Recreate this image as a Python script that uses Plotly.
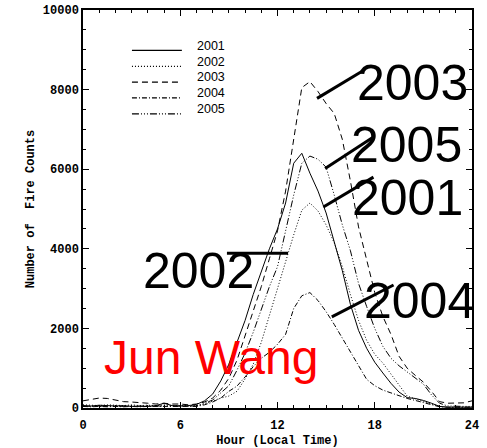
import plotly.graph_objects as go

hours = [i * 0.5 for i in range(49)]

fires_2001 = [60, 50, 70, 60, 50, 60, 40, 50, 40, 60, 120, 60, 50, 60, 90, 180,
              350, 680, 1100, 1650, 2200, 2850, 3450, 4000, 4500, 5150, 6150, 6400,
              5900, 5450, 4900, 4150, 3450, 2600, 1950, 1500, 1150, 880, 620, 400,
              260, 240, 190, 120, 40, 20, 20, 20, 20]
fires_2002 = [80, 70, 60, 80, 70, 60, 80, 60, 70, 60, 80, 60, 60, 60, 60, 100,
              170, 250, 300, 420, 730, 1100, 1650, 2330, 3030, 3650, 4350, 4970,
              5150, 4950, 4600, 4150, 3550, 2850, 2200, 1700, 1350, 1130, 850, 560,
              300, 230, 160, 100, 40, 20, 20, 20, 20]
fires_2003 = [180, 220, 250, 240, 200, 160, 150, 140, 120, 100, 120, 100, 100, 80, 100, 150,
              250, 450, 750, 1200, 1800, 2400, 3050, 3750, 4450, 5450, 6800, 8050,
              8200, 7950, 7650, 7400, 6750, 5700, 4550, 3700, 2900, 2300, 1850, 1300,
              1000, 820, 650, 420, 160, 120, 130, 130, 180]
fires_2004 = [40, 30, 40, 30, 40, 30, 40, 30, 40, 40, 50, 40, 40, 40, 40, 80,
              150, 250, 420, 550, 780, 1040, 1250, 1400, 1600, 1850, 2500, 2820,
              2900, 2700, 2420, 2100, 1750, 1400, 1050, 720, 560, 450, 380, 300,
              240, 190, 140, 80, 30, 20, 20, 20, 20]
fires_2005 = [50, 40, 50, 40, 50, 40, 50, 40, 50, 50, 60, 50, 50, 50, 50, 120,
              200, 380, 560, 950, 1380, 1900, 2500, 3050, 3550, 4450, 5350, 6150,
              6330, 6250, 6050, 5350, 4600, 3950, 3130, 2550, 2000, 1550, 1250, 1060,
              900, 750, 600, 330, 120, 50, 40, 40, 40]

years = ["2001", "2002", "2003", "2004", "2005"]
series = [fires_2001, fires_2002, fires_2003, fires_2004, fires_2005]
dashes = ["solid", "1px,2px", "6px,4px", "5px,2px,1px,2px",
          "7px,2px,1px,2px,1px,2px,1px,2px"]

# callout labels: text, label centre (hour, count), leader line ends
callouts = [
    ("2003", 20.34, 8170, (14.44, 7780), (17.22, 8460)),
    ("2005", 19.94, 6620, (14.94, 6020), (17.92, 6810)),
    ("2001", 20.0, 5270, (14.83, 5050), (17.92, 5800)),
    ("2002", 7.15, 3440, (8.88, 3890), (12.65, 3890)),
    ("2004", 20.75, 2690, (15.35, 2290), (19.16, 3090)),
]

fig = go.Figure()
for yr, vals, d in zip(years, series, dashes):
    fig.add_trace(go.Scatter(x=hours, y=vals, mode="lines", name=yr,
                             line=dict(color="black", width=1, dash=d)))

shapes = []
annotations = []
# IDL-style legend drawn inside the plot
for i, (yr, d) in enumerate(zip(years, dashes)):
    ly = 8984 - i * 398
    shapes.append(dict(type="line", xref="x", yref="y", x0=3.02, x1=6.1, y0=ly, y1=ly,
                       line=dict(color="black", width=1.3, dash=d)))
    annotations.append(dict(x=6.92, y=ly + 120, xref="x", yref="y", text=yr,
                            showarrow=False, xanchor="left", yanchor="middle",
                            font=dict(family="Liberation Sans", size=12.5, color="black")))

for txt, tx, ty, p0, p1 in callouts:
    shapes.append(dict(type="line", xref="x", yref="y", x0=p0[0], y0=p0[1], x1=p1[0], y1=p1[1],
                       line=dict(color="black", width=3)))
    annotations.append(dict(x=tx, y=ty, xref="x", yref="y", text=txt, showarrow=False,
                            xanchor="center", yanchor="middle",
                            font=dict(family="Liberation Sans", size=50, color="black")))

# signature
annotations.append(dict(x=(102 - 83.3) / 388.4, y=(408 - 386) / 398.5,
                        xref="paper", yref="paper", text="Jun Wang",
                        showarrow=False, xanchor="left", yanchor="bottom",
                        font=dict(family="Liberation Sans", size=48, color="red")))

tickfont = dict(family="Liberation Mono", size=12, color="black", weight="bold")
fig.update_layout(
    width=487, height=448,
    margin=dict(l=83, r=15, t=10, b=40),
    plot_bgcolor="white", paper_bgcolor="white",
    showlegend=False,
    shapes=shapes, annotations=annotations,
    xaxis=dict(range=[0, 24], tickvals=[0, 6, 12, 18, 24], ticks="inside", ticklen=6,
               minor=dict(dtick=1, ticks="inside", ticklen=3, tickcolor="black"),
               showline=True, linecolor="black", linewidth=1.5, mirror="allticks",
               tickcolor="black", showgrid=False, zeroline=False, tickfont=tickfont,
               automargin=False, ticklabelstandoff=5,
               title=dict(text="Hour (Local Time)", font=tickfont, standoff=8)),
    yaxis=dict(range=[0, 10000], tickvals=[0, 2000, 4000, 6000, 8000, 10000],
               ticktext=["0", "2000", "4000", "6000", "8000", "10000"],
               ticks="inside", ticklen=6,
               minor=dict(dtick=500, ticks="inside", ticklen=3, tickcolor="black"),
               showline=True, linecolor="black", linewidth=1.5, mirror="allticks",
               tickcolor="black", showgrid=False, zeroline=False, tickfont=tickfont,
               automargin=False,
               title=dict(text="Number of\u00a0 Fire Counts", font=tickfont, standoff=6)),
)

# drop the browser's default page margin so the figure sits at the window corner
fig.write_html("out.html", config={"displayModeBar": False},
               post_script="document.body.style.margin='0';")
